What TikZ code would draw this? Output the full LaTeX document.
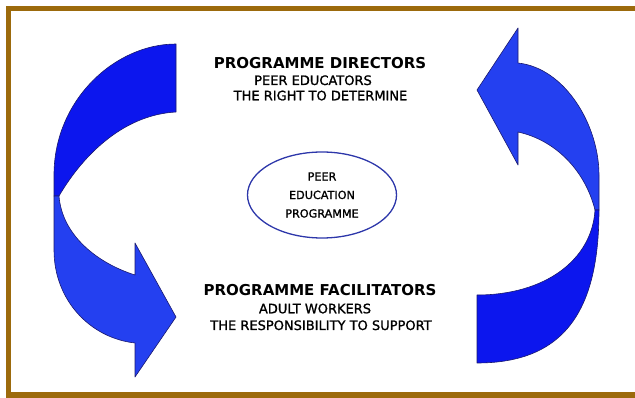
\documentclass[tikz,border=0pt]{standalone}
\usepackage{fontspec}
\setmainfont{DejaVu Sans}
\newfontfamily\heavyish[FakeBold=1.2]{DejaVu Sans}
\usetikzlibrary{positioning,shapes.geometric}
\definecolor{framebrown}{RGB}{156,106,12}
\definecolor{bandlight}{RGB}{36,64,240}
\definecolor{banddark}{RGB}{12,22,238}
\definecolor{bandline}{RGB}{25,25,110}
\definecolor{ringblue}{RGB}{45,55,170}
\tikzstyle{band}=[draw=bandline,line width=0.6pt,line join=round]
\tikzstyle{heading}=[font=\bfseries\fontsize{15}{18}\selectfont,inner sep=0pt,anchor=base]
\tikzstyle{subline}=[font=\heavyish\fontsize{13}{15}\selectfont,inner sep=0pt,anchor=base]
\tikzstyle{hub}=[ellipse,draw=ringblue,line width=1.3pt,minimum width=149pt,minimum height=86pt,inner sep=0pt,align=center,font=\heavyish\fontsize{11.2}{18.5}\selectfont]

\begin{document}
\begin{tikzpicture}[x=1pt,y=-1pt]
  \useasboundingbox (0,0) rectangle (635,398);
  % frame
  \draw[framebrown,line width=5.5pt] (8.3,8.3) rectangle (660,395);

  % left band, twisted at the left edge
  \path[band,fill=banddark] (176,44) .. controls (115,44) and (54,100) .. (54,175)
    -- (54,196) -- (59,196) .. controls (80,160) and (120,115) .. (176,112) -- cycle;
  \path[band,fill=bandlight] (54,196) -- (54,250) .. controls (54,300) and (90,338) .. (135,343)
    -- (135,377) -- (176,317) -- (135,243) -- (135,275)
    .. controls (97,263) and (62,235) .. (59,196) -- cycle;

  % right band
  \path[band,fill=bandlight] (599,210) -- (599,175) .. controls (599,125) and (565,68) .. (518,63)
    -- (518,28) -- (477,90) -- (518,165) -- (518,132)
    .. controls (555,140) and (585,170) .. (595,210) -- cycle;
  \path[band,fill=banddark] (595,210) .. controls (592,260) and (545,295) .. (477,295)
    -- (477,363) .. controls (565,363) and (599,310) .. (599,210) -- cycle;

  % texts
  \foreach \pos/\name/\txt in {{(320,68.3)/directors/PROGRAMME DIRECTORS},
                               {(320,296)/facilitators/PROGRAMME FACILITATORS}}
    \node[heading] (\name) at \pos {\txt};
  \foreach \pos/\name/\txt in {{(313,85)/educators/PEER EDUCATORS},
                               {(320.5,100.3)/determine/THE RIGHT TO DETERMINE},
                               {(315,313.3)/workers/ADULT WORKERS},
                               {(321,330)/support/THE RESPONSIBILITY TO SUPPORT}}
    \node[subline] (\name) at \pos {\txt};

  \node[hub] (peer) at (322,195) {PEER\\EDUCATION\\PROGRAMME};
\end{tikzpicture}
\end{document}
